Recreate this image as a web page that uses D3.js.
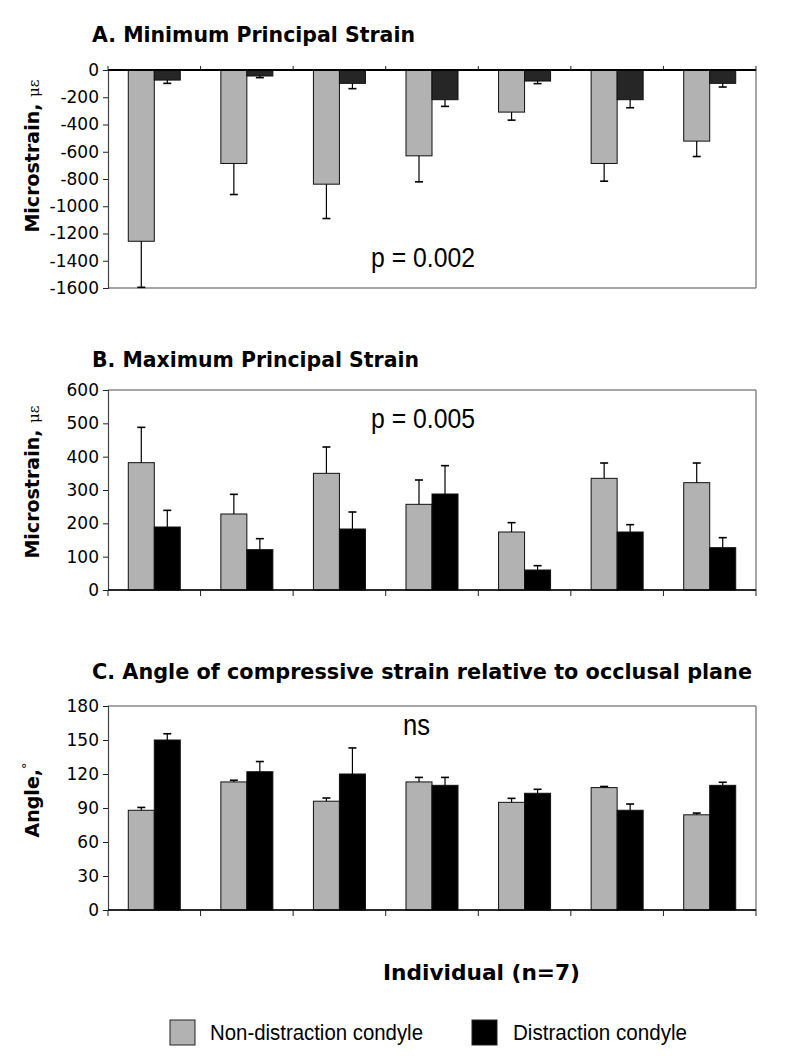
<!DOCTYPE html>
<html>
<head>
<meta charset="utf-8">
<script src="https://cdn.jsdelivr.net/npm/d3@7"></script>
<style>
  html, body { margin: 0; padding: 0; background: #fff; }
  svg { display: block; }
</style>
</head>
<body>
<svg id="chart" width="792" height="1062"></svg>
<script>
// ---------------- DATA ----------------
const individuals = ["1", "2", "3", "4", "5", "6", "7"];
const seriesNames = ["Non-distraction condyle", "Distraction condyle"];

// A. Minimum principal strain (microstrain)
const minStrainNonDist = [-1257, -686, -838, -630, -309, -686, -522];
const minStrainNonDistErr = [338, 228, 252, 191, 59, 130, 113];
const minStrainDist = [-74, -44, -98, -218, -81, -218, -98];
const minStrainDistErr = [24, 12, 39, 49, 19, 59, 27];
const minStrainTicks = [0, -200, -400, -600, -800, -1000, -1200, -1400, -1600];

// B. Maximum principal strain (microstrain)
const maxStrainNonDist = [382, 228, 350, 257, 174, 335, 322];
const maxStrainNonDistErr = [106, 59, 79, 73, 28, 46, 59];
const maxStrainDist = [189, 121, 183, 288, 60, 174, 127];
const maxStrainDistErr = [50, 33, 51, 85, 13, 22, 30];
const maxStrainTicks = [0, 100, 200, 300, 400, 500, 600];

// C. Angle of compressive strain (degrees)
const angleNonDist = [88, 113, 96, 113, 95, 108, 84];
const angleNonDistErr = [2.5, 1.5, 2.8, 4, 3.5, 1, 1.5];
const angleDist = [150, 122, 120, 110, 103, 88, 110];
const angleDistErr = [5.5, 9, 23, 7, 3.5, 5.5, 2.7];
const angleTicks = [0, 30, 60, 90, 120, 150, 180];

const panelTitles = [
  "A. Minimum Principal Strain",
  "B. Maximum Principal Strain",
  "C. Angle of compressive strain relative to occlusal plane"
];
const statLabels = ["p = 0.002", "p = 0.005", "ns"];
const xAxisTitle = "Individual (n=7)";

// ---------------- DRAWING ----------------
const svg = d3.select("#chart");
const X0 = 108, X1 = 756;
const grayFill = "#b2b2b2";
const sansBold = "'DejaVu Sans', Verdana, sans-serif";
const arial = "'Liberation Sans', Arial, sans-serif";

const x = d3.scaleBand().domain(individuals).range([X0, X1]).paddingInner(0).paddingOuter(0);
const xs = d3.scaleBand().domain(seriesNames).range([0, x.bandwidth()]).paddingInner(0).paddingOuter(0.78);

function panel(cfg) {
  const g = svg.append("g");
  const y = d3.scaleLinear().domain(cfg.domain).range([cfg.yBottom, cfg.yTop]);

  // title
  g.append("text").attr("x", 92).attr("y", cfg.titleY)
    .attr("font-family", sansBold).attr("font-weight", "bold").attr("font-size", 22)
    .attr("textLength", cfg.titleLen).attr("lengthAdjust", "spacingAndGlyphs")
    .text(cfg.title);

  // frame (top & right & bottom gray)
  g.append("line").attr("x1", X0).attr("x2", X1).attr("y1", cfg.yTop).attr("y2", cfg.yTop)
    .attr("stroke", "#888").attr("stroke-width", 1.5);
  g.append("line").attr("x1", X1).attr("x2", X1).attr("y1", cfg.yTop).attr("y2", cfg.yBottom)
    .attr("stroke", "#888").attr("stroke-width", 1.5);
  g.append("line").attr("x1", X0).attr("x2", X1).attr("y1", cfg.yBottom).attr("y2", cfg.yBottom)
    .attr("stroke", "#888").attr("stroke-width", 1.5);

  // bars
  const rows = individuals.map((d, i) => ({ id: d, vals: [
    { s: seriesNames[0], v: cfg.a[i], e: cfg.ae[i] },
    { s: seriesNames[1], v: cfg.b[i], e: cfg.be[i] }
  ]}));
  const grp = g.selectAll("g.cat").data(rows).join("g")
    .attr("transform", d => `translate(${x(d.id)},0)`);
  const y0 = y(0);
  grp.selectAll("rect").data(d => d.vals).join("rect")
    .attr("x", d => xs(d.s))
    .attr("width", xs.bandwidth())
    .attr("y", d => Math.min(y(d.v), y0))
    .attr("height", d => Math.abs(y(d.v) - y0))
    .attr("fill", d => d.s === seriesNames[0] ? grayFill : cfg.darkFill)
    .attr("stroke", "#111").attr("stroke-width", 1);
  // error bars (one-sided, away from zero)
  grp.selectAll("g.err").data(d => d.vals).join("g").each(function(d) {
    const cx = xs(d.s) + xs.bandwidth() / 2;
    const sign = d.v < 0 ? -1 : 1;
    const yEnd = y(d.v + sign * d.e);
    const sel = d3.select(this);
    sel.append("line").attr("x1", cx).attr("x2", cx).attr("y1", y(d.v)).attr("y2", yEnd)
      .attr("stroke", "#000").attr("stroke-width", 1.2);
    sel.append("line").attr("x1", cx - 4).attr("x2", cx + 4).attr("y1", yEnd).attr("y2", yEnd)
      .attr("stroke", "#000").attr("stroke-width", 1.6);
  });

  // y axis
  const yAxis = d3.axisLeft(y).tickValues(cfg.ticks).tickSize(5).tickPadding(4).tickFormat(d3.format("d"));
  const ya = g.append("g").attr("transform", `translate(${X0},0)`).call(yAxis);
  ya.select(".domain").attr("stroke", "#444").attr("stroke-width", 1.2);
  ya.selectAll(".tick line").attr("stroke", "#222");
  ya.selectAll(".tick text").attr("font-family", sansBold).attr("font-size", 17).attr("fill", "#000")
    .text(d => d < 0 ? "-" + Math.abs(d) : d);

  // x axis (category separator ticks) at zero line
  const xAxisG = g.append("g").attr("transform", `translate(0,${y0})`);
  xAxisG.append("line").attr("x1", X0).attr("x2", X1).attr("y1", 0).attr("y2", 0)
    .attr("stroke", "#000").attr("stroke-width", cfg.zeroTop ? 2 : 1.5);
  const bounds = individuals.map(d => x(d)).concat([X1]);
  xAxisG.selectAll("line.tk").data(bounds).join("line").attr("class", "tk")
    .attr("x1", d => d).attr("x2", d => d).attr("y1", 0).attr("y2", cfg.zeroTop ? -4 : 6)
    .attr("stroke", "#222").attr("stroke-width", 1);

  // y axis title
  const yt = g.append("text")
    .attr("transform", `translate(${cfg.yTitleX},${cfg.yTitleY}) rotate(-90)`)
    .attr("text-anchor", "middle")
    .attr("font-family", sansBold).attr("font-weight", "bold").attr("font-size", 19);
  yt.append("tspan").text(cfg.yTitle);
  if (cfg.yUnit) yt.append("tspan").attr("font-weight", "normal").attr("font-size", 15)
    .attr("font-family", "'DejaVu Serif', serif").text(cfg.yUnit);
  if (cfg.yDeg) yt.append("tspan").attr("font-weight", "normal").attr("font-size", 13)
    .attr("dy", -8).text(cfg.yDeg);

  // statistic label
  g.append("text").attr("x", cfg.statX).attr("y", cfg.statY)
    .attr("font-family", arial).attr("font-size", cfg.statSize)
    .attr("textLength", cfg.statLen).attr("lengthAdjust", "spacingAndGlyphs")
    .text(cfg.stat);
}

panel({
  title: panelTitles[0], titleY: 42, titleLen: 323,
  domain: [-1600, 0], yTop: 70, yBottom: 288, zeroTop: true,
  ticks: minStrainTicks,
  a: minStrainNonDist, ae: minStrainNonDistErr, b: minStrainDist, be: minStrainDistErr,
  darkFill: "#262626",
  yTitle: "Microstrain, ", yUnit: "με", yTitleX: 39, yTitleY: 156,
  stat: statLabels[0], statX: 371, statY: 267, statSize: 27, statLen: 104
});

panel({
  title: panelTitles[1], titleY: 367, titleLen: 327,
  domain: [0, 600], yTop: 390, yBottom: 590, zeroTop: false,
  ticks: maxStrainTicks,
  a: maxStrainNonDist, ae: maxStrainNonDistErr, b: maxStrainDist, be: maxStrainDistErr,
  darkFill: "#000",
  yTitle: "Microstrain, ", yUnit: "με", yTitleX: 39, yTitleY: 482,
  stat: statLabels[1], statX: 371, statY: 428, statSize: 27, statLen: 104
});

panel({
  title: panelTitles[2], titleY: 679, titleLen: 660,
  domain: [0, 180], yTop: 706, yBottom: 910, zeroTop: false,
  ticks: angleTicks,
  a: angleNonDist, ae: angleNonDistErr, b: angleDist, be: angleDistErr,
  darkFill: "#000",
  yTitle: "Angle,", yDeg: "°", yTitleX: 39, yTitleY: 800,
  stat: statLabels[2], statX: 403, statY: 735, statSize: 30, statLen: 27
});

// x axis title
svg.append("text").attr("x", 383).attr("y", 980)
  .attr("font-family", sansBold).attr("font-weight", "bold").attr("font-size", 22)
  .attr("textLength", 197).attr("lengthAdjust", "spacingAndGlyphs")
  .text(xAxisTitle);

// legend
const legend = [
  { name: seriesNames[0], fill: grayFill, sx: 170, tx: 210, tl: 213 },
  { name: seriesNames[1], fill: "#000", sx: 472, tx: 513, tl: 174 }
];
const lg = svg.selectAll("g.leg").data(legend).join("g");
lg.append("rect").attr("x", d => d.sx).attr("y", 1020).attr("width", 25).attr("height", 25)
  .attr("fill", d => d.fill).attr("stroke", "#222").attr("stroke-width", 1);
lg.append("text").attr("x", d => d.tx).attr("y", 1040)
  .attr("font-family", arial).attr("font-size", 22)
  .attr("textLength", d => d.tl).attr("lengthAdjust", "spacingAndGlyphs")
  .text(d => d.name);
</script>
</body>
</html>
